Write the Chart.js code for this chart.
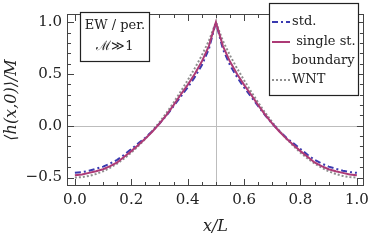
<!DOCTYPE html>
<html>
<head>
<meta charset="utf-8">
<script src="https://cdn.jsdelivr.net/npm/chart.js@4.4.0/dist/chart.umd.min.js"></script>
<style>
  html, body { margin: 0; padding: 0; background: #fff; }
  #wrap { position: relative; width: 374px; height: 241px; }
</style>
</head>
<body>
<div id="wrap"><canvas id="c"></canvas></div>
<script>
// x/L positions of the sampled profile
const xs = [0, 0.025, 0.05, 0.075, 0.1, 0.125, 0.15, 0.175, 0.2, 0.225,
  0.25, 0.275, 0.3, 0.325, 0.35, 0.375, 0.4, 0.425, 0.45, 0.475,
  0.5, 0.525, 0.55, 0.575, 0.6, 0.625, 0.65, 0.675, 0.7, 0.725,
  0.75, 0.775, 0.8, 0.825, 0.85, 0.875, 0.9, 0.925, 0.95, 0.975, 1];

const stdVals = [-0.455, -0.448, -0.435, -0.415, -0.395, -0.365, -0.33, -0.28, -0.225, -0.17,
  -0.115, -0.05, 0.02, 0.10, 0.19, 0.28, 0.37, 0.47, 0.585, 0.74,
  1.0, 0.74, 0.585, 0.47, 0.37, 0.28, 0.19, 0.10, 0.02, -0.05,
  -0.115, -0.17, -0.225, -0.28, -0.33, -0.365, -0.395, -0.415, -0.435, -0.448, -0.455];

const singleVals = [-0.478, -0.47, -0.455, -0.44, -0.42, -0.39, -0.355, -0.30, -0.245, -0.185,
  -0.124, -0.055, 0.02, 0.105, 0.20, 0.30, 0.395, 0.50, 0.62, 0.77,
  1.0, 0.77, 0.62, 0.50, 0.395, 0.30, 0.20, 0.105, 0.02, -0.055,
  -0.124, -0.185, -0.245, -0.30, -0.355, -0.39, -0.42, -0.44, -0.455, -0.47, -0.478];

const wntVals = [-0.5, -0.496, -0.485, -0.466, -0.44, -0.406, -0.365, -0.316, -0.26, -0.196,
  -0.125, -0.048, 0.035, 0.125, 0.225, 0.33, 0.44, 0.555, 0.68, 0.82,
  1.0, 0.82, 0.68, 0.555, 0.44, 0.33, 0.225, 0.125, 0.035, -0.048,
  -0.125, -0.196, -0.26, -0.316, -0.365, -0.406, -0.44, -0.466, -0.485, -0.496, -0.5];

const seriesLabels = ['std.', [' single st.', 'boundary'], 'WNT'];

const xTicks = [0, 0.2, 0.4, 0.6, 0.8, 1.0];
const yTicks = [-0.5, 0, 0.5, 1.0];
const xMinor = [0, 0.05, 0.1, 0.15, 0.2, 0.25, 0.3, 0.35, 0.4, 0.45, 0.5,
  0.55, 0.6, 0.65, 0.7, 0.75, 0.8, 0.85, 0.9, 0.95, 1.0];
const yMinor = [-0.5, -0.4, -0.3, -0.2, -0.1, 0, 0.1, 0.2, 0.3, 0.4, 0.5,
  0.6, 0.7, 0.8, 0.9, 1.0];
const refLinesX = [0.5];
const refLinesY = [0];
const boxText = ['EW / per.', 'ℳ≫1'];

const toPts = vals => xs.map((x, i) => ({ x: x, y: vals[i] }));
const serif = '"DejaVu Serif", serif';

const framePlugin = {
  id: 'frame',
  beforeDatasetsDraw(chart) {
    const { ctx, chartArea: ca, scales: { x, y } } = chart;
    ctx.save();
    ctx.strokeStyle = '#bdbdbd';
    ctx.lineWidth = 1;
    refLinesX.forEach(v => {
      const px = Math.round(x.getPixelForValue(v)) + 0.5;
      ctx.beginPath(); ctx.moveTo(px, ca.top); ctx.lineTo(px, ca.bottom); ctx.stroke();
    });
    refLinesY.forEach(v => {
      const py = Math.round(y.getPixelForValue(v)) + 0.5;
      ctx.beginPath(); ctx.moveTo(ca.left, py); ctx.lineTo(ca.right, py); ctx.stroke();
    });
    ctx.restore();
  },
  afterDatasetsDraw(chart) {
    const { ctx, chartArea: ca, scales: { x, y } } = chart;
    ctx.save();
    ctx.strokeStyle = '#444';
    ctx.lineWidth = 1;
    xMinor.forEach(v => {
      const px = Math.round(x.getPixelForValue(v)) + 0.5;
      const len = xTicks.some(t => Math.abs(t - v) < 1e-9) ? 7 : 4;
      ctx.beginPath();
      ctx.moveTo(px, ca.bottom); ctx.lineTo(px, ca.bottom - len);
      ctx.moveTo(px, ca.top); ctx.lineTo(px, ca.top + len);
      ctx.stroke();
    });
    yMinor.forEach(v => {
      const py = Math.round(y.getPixelForValue(v)) + 0.5;
      const len = yTicks.some(t => Math.abs(t - v) < 1e-9) ? 7 : 4;
      ctx.beginPath();
      ctx.moveTo(ca.left, py); ctx.lineTo(ca.left + len, py);
      ctx.moveTo(ca.right, py); ctx.lineTo(ca.right - len, py);
      ctx.stroke();
    });
    ctx.strokeRect(Math.round(ca.left) + 0.5, Math.round(ca.top) + 0.5,
      Math.round(ca.right - ca.left) - 1, Math.round(ca.bottom - ca.top) - 1);
    ctx.restore();
  },
  afterDraw(chart) {
    const ctx = chart.ctx;
    ctx.save();
    // text box, upper left
    ctx.fillStyle = '#fff';
    ctx.fillRect(80, 12, 69, 49);
    ctx.strokeStyle = '#222';
    ctx.lineWidth = 1.2;
    ctx.strokeRect(80.5, 12.5, 69, 49);
    ctx.fillStyle = '#222';
    ctx.font = '13px ' + serif;
    ctx.textAlign = 'center';
    ctx.textBaseline = 'middle';
    ctx.fillText(boxText[0], 115, 26);
    ctx.fillText(boxText[1], 115, 47);

    // legend box, upper right
    ctx.fillStyle = '#fff';
    ctx.fillRect(269, 3, 89, 92);
    ctx.strokeRect(269.5, 3.5, 89, 92);
    ctx.textAlign = 'left';
    const rows = [22, 42, 80];
    chart.data.datasets.forEach((ds, i) => {
      const yy = rows[i];
      ctx.strokeStyle = ds.borderColor;
      ctx.lineWidth = ds.borderWidth;
      ctx.setLineDash(ds.borderDash || []);
      ctx.beginPath(); ctx.moveTo(272, yy); ctx.lineTo(290, yy); ctx.stroke();
      ctx.setLineDash([]);
      ctx.fillStyle = '#222';
      const lab = Array.isArray(ds.label) ? ds.label : [ds.label];
      lab.forEach((t, j) => ctx.fillText(t, 292, yy + j * 19));
    });
    ctx.restore();
  }
};

new Chart(document.getElementById('c'), {
  type: 'scatter',
  data: {
    datasets: [{
      label: seriesLabels[0],
      data: toPts(stdVals),
      showLine: true,
      borderColor: '#3a3ab0',
      borderWidth: 2,
      borderDash: [6, 3, 2, 3],
      pointRadius: 0,
      order: 2
    }, {
      label: seriesLabels[1],
      data: toPts(singleVals),
      showLine: true,
      borderColor: '#ad3a76',
      borderWidth: 2,
      pointRadius: 0,
      order: 1
    }, {
      label: seriesLabels[2],
      data: toPts(wntVals),
      showLine: true,
      borderColor: '#8e8e8e',
      borderWidth: 2,
      borderDash: [2, 2],
      pointRadius: 0,
      order: 3
    }]
  },
  options: {
    responsive: true,
    maintainAspectRatio: false,
    animation: false,
    devicePixelRatio: 1,
    layout: { padding: { top: 2, right: 8, left: 0, bottom: 0 } },
    plugins: { legend: { display: false }, tooltip: { enabled: false } },
    scales: {
      x: {
        type: 'linear',
        min: -0.028,
        max: 1.025,
        afterBuildTicks: s => { s.ticks = xTicks.map(v => ({ value: v })); },
        afterFit: s => { s.height = 55; },
        grid: { display: false, drawTicks: false },
        border: { display: false },
        ticks: {
          color: '#222',
          font: { family: serif, size: 15 },
          padding: 5,
          maxRotation: 0,
          callback: v => v.toFixed(1)
        },
        title: {
          display: true,
          text: 'x/L',
          color: '#222',
          font: { family: serif, size: 16, style: 'italic' },
          padding: { top: 0, bottom: 5 }
        }
      },
      y: {
        min: -0.582,
        max: 1.08,
        afterBuildTicks: s => { s.ticks = yTicks.map(v => ({ value: v })); },
        afterFit: s => { s.width = 67; },
        grid: { display: false, drawTicks: false },
        border: { display: false },
        ticks: {
          color: '#222',
          font: { family: serif, size: 15 },
          padding: 5,
          callback: v => (v < 0 ? '−' : '') + Math.abs(v).toFixed(1)
        },
        title: {
          display: true,
          text: '⟨h(x,0)⟩/M',
          color: '#222',
          font: { family: serif, size: 16, style: 'italic' },
          padding: { top: 2, bottom: 0 }
        }
      }
    }
  },
  plugins: [framePlugin]
});
</script>
</body>
</html>
